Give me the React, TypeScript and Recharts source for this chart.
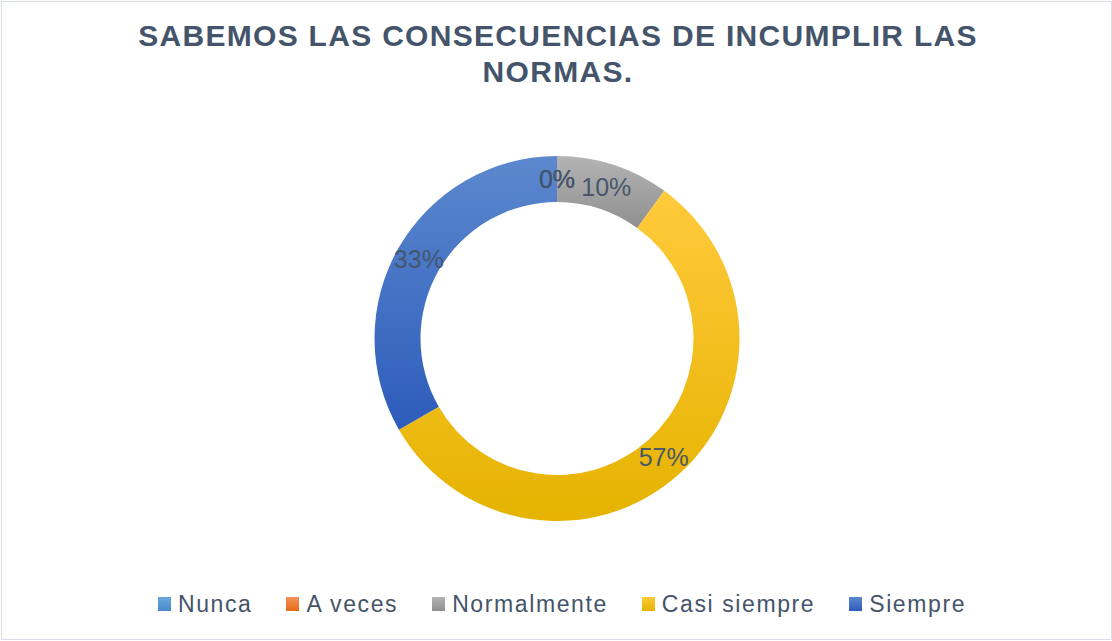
import React from "react";
import { PieChart, Pie, Cell } from "recharts";

const categories = ["Nunca", "A veces", "Normalmente", "Casi siempre", "Siempre"];
const counts = [0, 0, 3, 17, 10];
const titleLines = ["SABEMOS LAS CONSECUENCIAS DE INCUMPLIR LAS", "NORMAS."];
const gradTop = ["#6aa7dd", "#f4925a", "#b4b4b4", "#ffca3c", "#5c88ce"];
const gradBottom = ["#4a8ac8", "#e66c17", "#8f8f8f", "#e5b300", "#2d5cba"];

const data = categories.map((name, i) => ({ name, value: counts[i] }));
const FONT = "'Liberation Sans', Arial, sans-serif";
const TEXT = "#44546A";
const RAD = Math.PI / 180;

const renderLabel = (props: any) => {
  const { cx, cy, midAngle, innerRadius, outerRadius, percent } = props;
  const r = (innerRadius + outerRadius) / 2;
  const x = cx + r * Math.cos(-midAngle * RAD);
  const y = cy + r * Math.sin(-midAngle * RAD);
  return (
    <text
      x={x}
      y={y}
      fill={TEXT}
      textAnchor="middle"
      dominantBaseline="central"
      style={{ fontFamily: FONT, fontSize: 25, opacity: 0.95 }}
    >
      {`${Math.round(percent * 100)}%`}
    </text>
  );
};

export default function App() {
  return (
    <div
      style={{
        position: "absolute",
        left: 0,
        top: 0,
        width: 1112,
        height: 641,
        background: "#ffffff",
        overflow: "hidden",
      }}
    >
      <div
        style={{
          position: "absolute",
          left: 1,
          top: 1,
          width: 1109,
          height: 637,
          border: "1px solid #d9dfe8",
        }}
      />
      <div
        style={{
          position: "absolute",
          left: 0,
          top: 18,
          width: 1116,
          textAlign: "center",
          fontFamily: FONT,
          fontWeight: "bold",
          fontSize: 30,
          letterSpacing: 1.3,
          lineHeight: "36px",
          color: TEXT,
        }}
      >
        {titleLines.map((t) => (
          <div key={t}>{t}</div>
        ))}
      </div>
      <div style={{ position: "absolute", left: 0, top: 0 }}>
        <PieChart width={1112} height={641} margin={{ top: 0, right: 0, bottom: 0, left: 0 }}>
          <defs>
            {categories.map((c, i) => (
              <linearGradient key={c} id={`g${i}`} x1="0" y1="0" x2="0" y2="1">
                <stop offset="0%" stopColor={gradTop[i]} />
                <stop offset="100%" stopColor={gradBottom[i]} />
              </linearGradient>
            ))}
          </defs>
          <Pie
            data={data}
            dataKey="value"
            nameKey="name"
            cx={557}
            cy={338.5}
            innerRadius={136.5}
            outerRadius={182.5}
            startAngle={90}
            endAngle={-270}
            stroke="none"
            label={renderLabel}
            labelLine={false}
            isAnimationActive={false}
          >
            {data.map((d, i) => (
              <Cell key={d.name} fill={`url(#g${i})`} />
            ))}
          </Pie>
        </PieChart>
      </div>
      <div
        style={{
          position: "absolute",
          left: 5,
          top: 589,
          width: 1114,
          display: "flex",
          justifyContent: "center",
          alignItems: "center",
          fontFamily: FONT,
          fontSize: 23,
          letterSpacing: 1.6,
          color: TEXT,
          lineHeight: "30px",
        }}
      >
        {categories.map((c, i) => (
          <div
            key={c}
            style={{
              display: "flex",
              alignItems: "center",
              marginRight: i < categories.length - 1 ? 34 : 0,
            }}
          >
            <span
              style={{
                display: "inline-block",
                width: 13,
                height: 14,
                marginRight: 7,
                background: `linear-gradient(${gradTop[i]}, ${gradBottom[i]})`,
              }}
            />
            <span>{c}</span>
          </div>
        ))}
      </div>
    </div>
  );
}
